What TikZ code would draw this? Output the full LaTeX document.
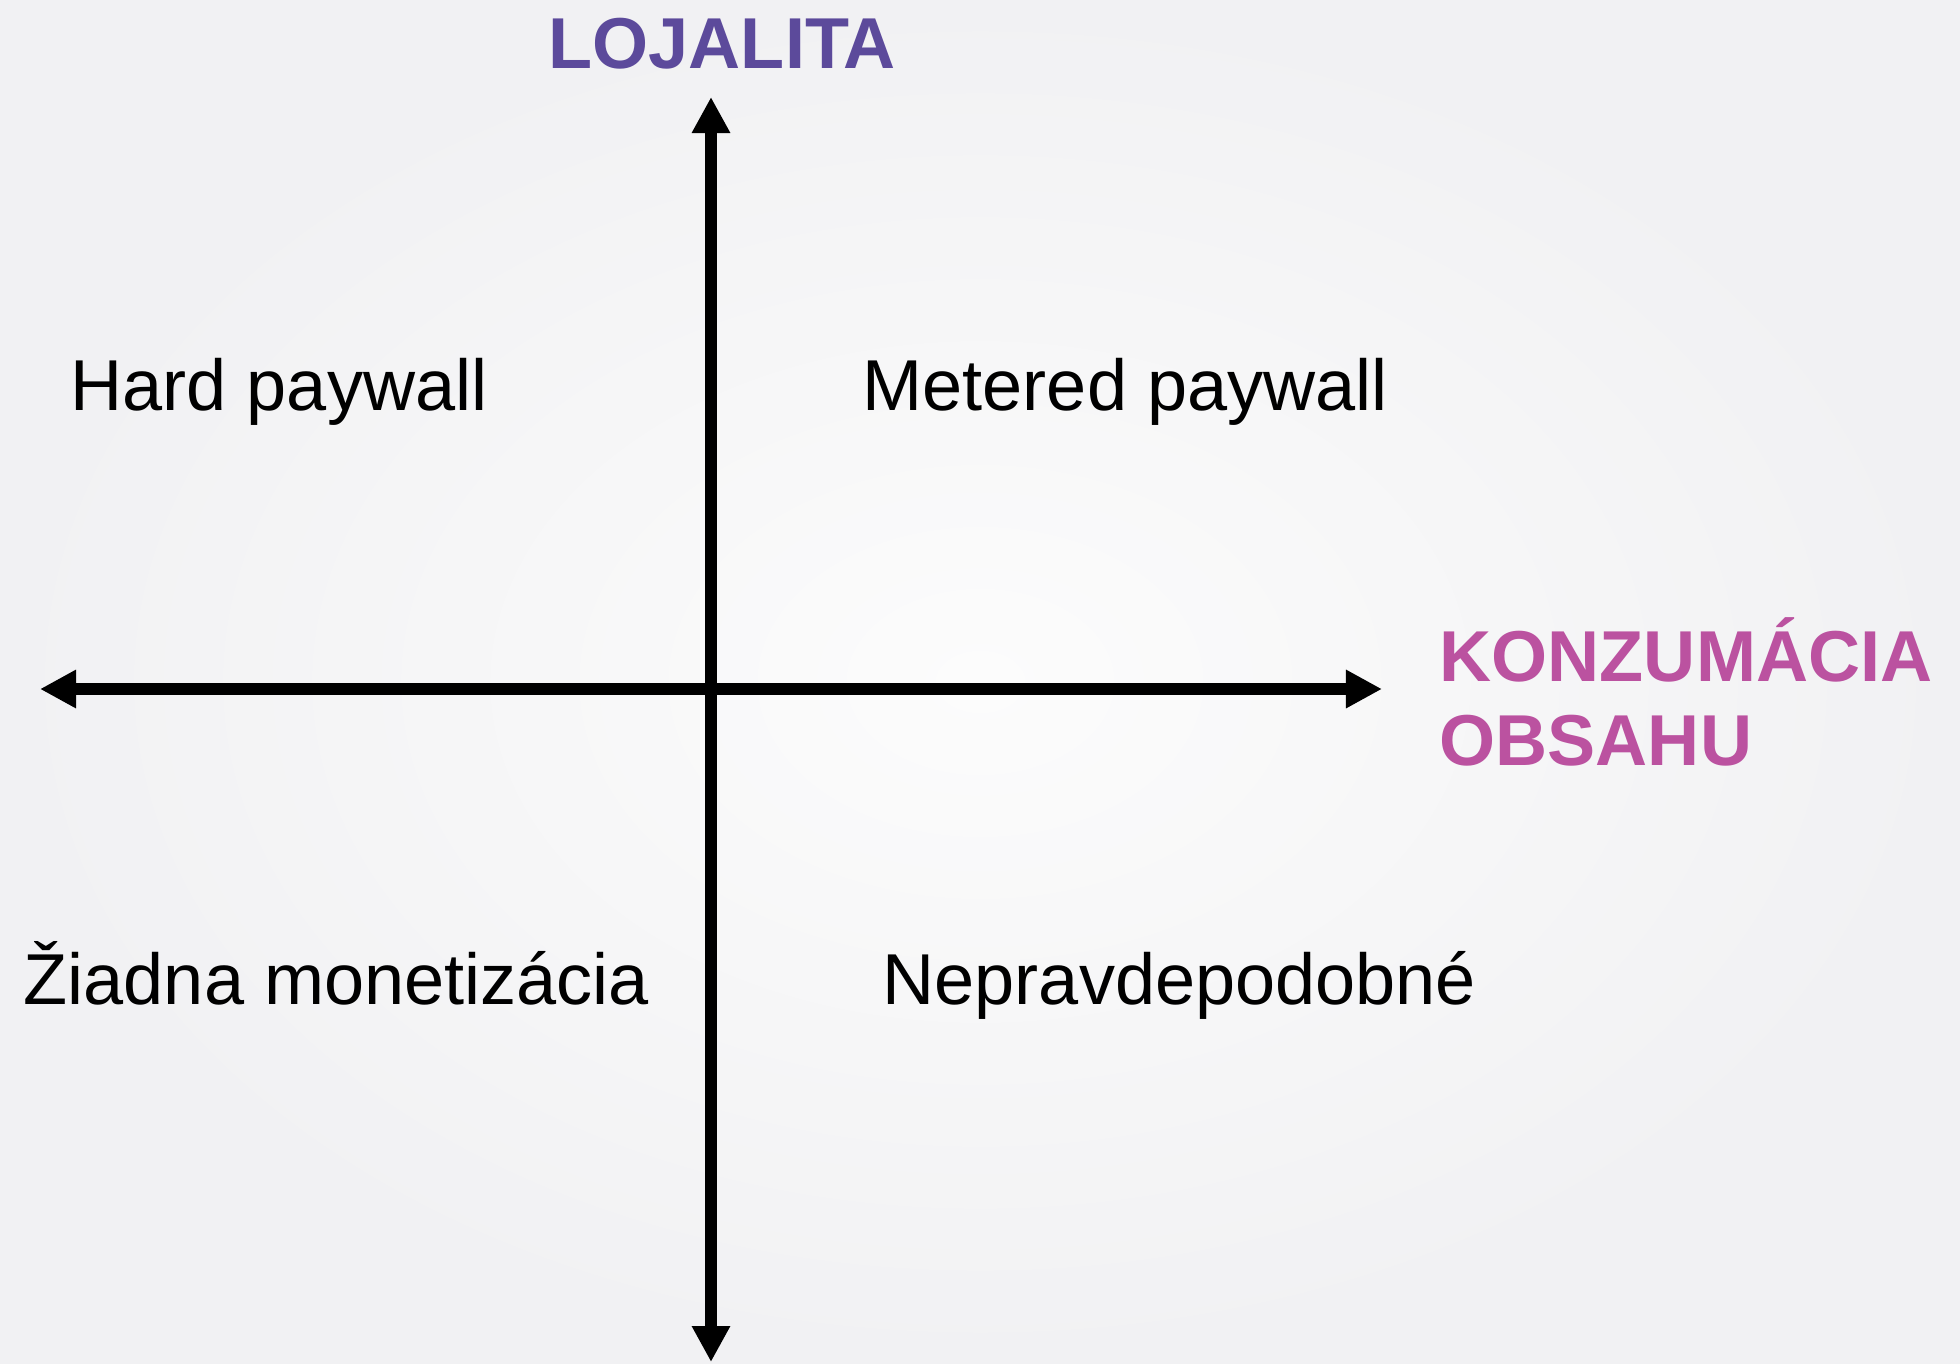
\documentclass[tikz,border=0pt]{standalone}
\usepackage{fontspec}
\setmainfont{Liberation Sans}
\usetikzlibrary{arrows.meta}
\definecolor{lojal}{RGB}{92,74,155}
\definecolor{konz}{RGB}{187,82,160}
\definecolor{bgin}{RGB}{252,252,252}
\definecolor{bgout}{RGB}{241,241,243}

\begin{document}
\begin{tikzpicture}[x=0.01cm,y=-0.01cm,>={Triangle[length=0.36cm,width=0.36cm]},
  lbl/.style={inner sep=0pt,anchor=base west,font=\fontsize{20.5}{24}\selectfont},
  head/.style={inner sep=0pt,anchor=base west,font=\fontsize{20.5}{24}\selectfont\bfseries}]
\shade[inner color=bgin,outer color=bgout](0,0) rectangle (1960,1363);
\useasboundingbox (0,0) rectangle (1960,1363);
% axes
\coordinate(T) at (711,97);
\coordinate(B) at (711,1362);
\coordinate(L) at (40,689);
\coordinate(R) at (1382,689);
\draw[line width=0.115cm,<->](B)--(T);
\draw[line width=0.115cm,<->](L)--(R);
% axis titles
\node[head,text=lojal](loj) at (548,68){LOJALITA};
\node[head,text=konz](kon1) at (1439,681){KONZUMÁCIA};
\node[head,text=konz](kon2) at (1439,765){OBSAHU};
% quadrants
\node[lbl](Q1) at (70,410){Hard paywall};
\node[lbl](Q2) at (862,410){Metered paywall};
\node[lbl](Q3) at (23,1004){Žiadna monetizácia};
\node[lbl](Q4) at (882,1004){Nepravdepodobné};
\end{tikzpicture}
\end{document}
